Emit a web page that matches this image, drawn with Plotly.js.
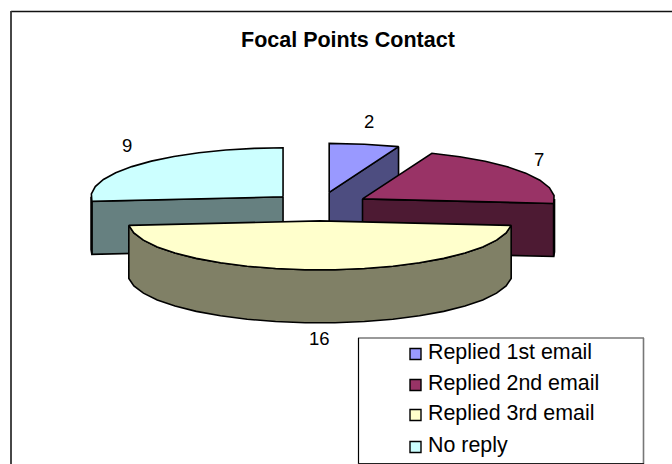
<!DOCTYPE html>
<html><head><meta charset="utf-8">
<script src="https://cdn.plot.ly/plotly-3.0.1.min.js"></script>
<style>html,body{margin:0;padding:0;background:#fff}#c{width:672px;height:464px}</style>
</head><body><div id="c"></div><script>
const categories = ["Replied 1st email","Replied 2nd email","Replied 3rd email","No reply"];
const values = [2,7,16,9];
const topColors = ["#9999FF","#993366","#FFFFCC","#CCFFFF"];
const sideColors = ["#4D4D80","#4D1A33","#808066","#668080"];
const drawOrder = [0,3,1,2];

const total = values.reduce((a,b)=>a+b,0);
const cx=320, cy=206.5, rx=192, ry=49, depth=53, explode=50, tilt=0.288, step=9;
const rad=d=>d*Math.PI/180;
let acc=0;
const wedges = values.map(v=>{const a0=acc/total*360; acc+=v; const a1=acc/total*360; const m=(a0+a1)/2;
  return {a0,a1,ax:cx+explode*Math.sin(rad(m)),ay:cy-explode*tilt*Math.cos(rad(m))};});
const pt=(w,a)=>[w.ax+rx*Math.sin(rad(a)), w.ay-ry*Math.cos(rad(a))];
function arc(w,a,b){const n=Math.max(1,Math.round(Math.abs(b-a)/step));const p=[];
  for(let i=0;i<=n;i++)p.push(pt(w,a+(b-a)*i/n));return p;}
function poly(p,fill,name){return {type:'scatter',mode:'lines',x:p.map(q=>q[0]),y:p.map(q=>q[1]),fill:'toself',
  fillcolor:fill,line:{color:'#000',width:1.6},hoverinfo:'skip',showlegend:false,name};}
function faces(i){const w=wedges[i],out=[];
  const down=p=>p.map(q=>[q[0],q[1]+depth]);
  const apex=[w.ax,w.ay];
  const radial=(a)=>{const e=pt(w,a);out.push(poly([apex,e,[e[0],e[1]+depth],[apex[0],apex[1]+depth],apex],sideColors[i]));};
  if(i===0) radial(w.a1);
  if(i===1) radial(w.a1);
  if(i===3) radial(w.a0);
  const s=Math.max(w.a0,90), e=Math.min(w.a1,270);
  if(e>s){const r=arc(w,s,e);out.push(poly(r.concat(down(r).reverse()).concat([r[0]]),sideColors[i]));}
  out.push(poly([apex].concat(arc(w,w.a0,w.a1)).concat([apex]),topColors[i]));
  return out;}
const traces=[];
drawOrder.forEach(i=>traces.push(...faces(i)));

const labelPos=[[369,121],[539,159],[319,338],[127,145]];
const annotations=values.map((v,i)=>({x:labelPos[i][0],y:labelPos[i][1],text:String(v),showarrow:false,
  xref:'x',yref:'y',font:{family:'Liberation Sans',size:18.5,color:'#000'}}));
annotations.push({x:347.5,y:40,text:'<b>Focal Points Contact</b>',showarrow:false,xref:'x',yref:'y',
  font:{family:'Liberation Sans',size:21.5,color:'#000'}});
const seg=(x0,y0,x1,y1,color,width)=>({type:'line',xref:'x',yref:'y',x0,y0,x1,y1,line:{color,width}});
const shapes=[
 Object.assign(seg(11,11.5,672,11.5,'#111',1.5),{layer:'below'}),
 Object.assign(seg(11,11,11,464,'#333',1.8),{layer:'below'}),
 {type:'rect',xref:'x',yref:'y',x0:358.5,y0:338.5,x1:643.5,y1:463.5,line:{width:0},fillcolor:'#fff'},
 seg(358,338,644,338,'#777',1.6),
 seg(643.5,338,643.5,464,'#777',1.6),
 seg(358.5,338,358.5,464,'#000',1.2),
 seg(358,463.5,644,463.5,'#222',1.2)];
const markerY=[354,385,415,447], textY=[351.5,382.5,412.5,444.5];
categories.forEach((c,i)=>{
  shapes.push({type:'rect',xref:'x',yref:'y',x0:410,x1:421,y0:markerY[i]-5.5,y1:markerY[i]+5.5,fillcolor:topColors[i],line:{color:'#000',width:1.4}});
  annotations.push({x:426,y:textY[i],text:c,showarrow:false,xanchor:'left',xref:'x',yref:'y',font:{family:'Liberation Sans',size:21.4,color:'#000'}});
});
Plotly.newPlot('c',traces,{width:672,height:464,margin:{l:0,r:0,t:0,b:0},paper_bgcolor:'#fff',plot_bgcolor:'#fff',
  xaxis:{range:[0,672],visible:false,fixedrange:true},yaxis:{range:[464,0],visible:false,fixedrange:true},
  showlegend:false,shapes,annotations},{displayModeBar:false,staticPlot:true});
</script></body></html>
